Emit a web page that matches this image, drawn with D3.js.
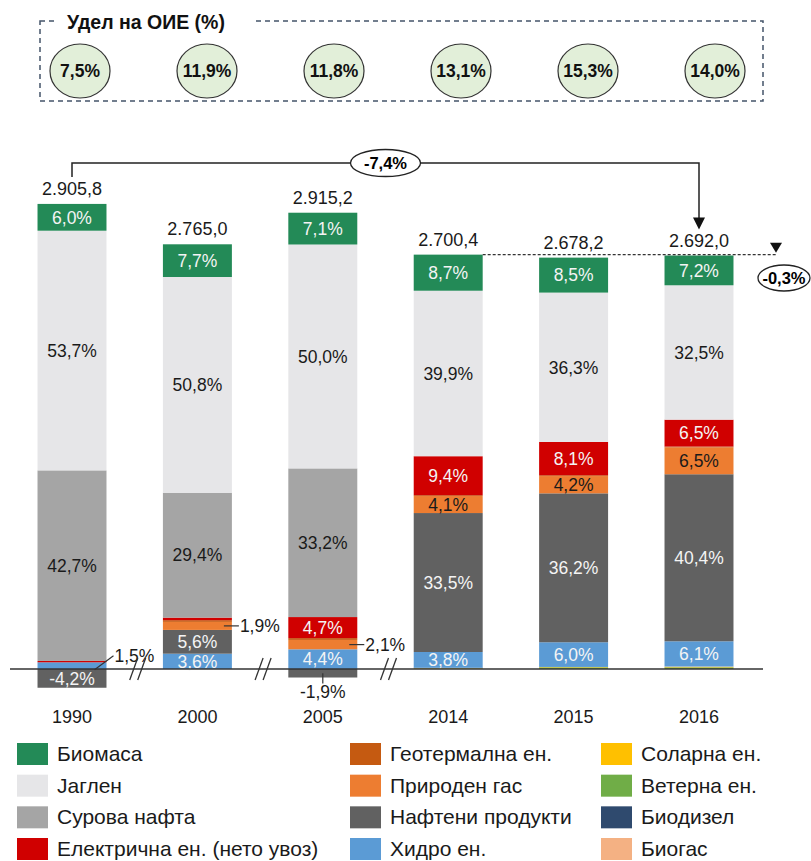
<!DOCTYPE html>
<html lang="bg">
<head>
<meta charset="UTF-8">
<title>Енергетски биланс</title>
<script src="https://d3js.org/d3.v7.min.js"></script>
<style>
  body { margin: 0; background: #fff; }
  text { font-family: "Liberation Sans", Arial, sans-serif; }
</style>
</head>
<body>
<script>

// years and totals (ktoe)
var years = ["1990", "2000", "2005", "2014", "2015", "2016"];
var totals = [2905.8, 2765.0, 2915.2, 2700.4, 2678.2, 2692.0];
var resShare = [7.5, 11.9, 11.8, 13.1, 15.3, 14.0];

// shares (%) per source, bottom of stack first
var wind      = [0, 0, 0, 0.1, 0.4, 0.4];
var solar     = [0, 0, 0, 0.1, 0.1, 0.1];
var biodiesel = [0, 0, 0, 0.1, 0, 0];
var biogas    = [0, 0, 0, 0, 0, 0.1];
var hydro     = [1.5, 3.6, 4.4, 3.8, 6.0, 6.1];
var oilprod   = [-4.2, 5.6, -1.9, 33.5, 36.2, 40.4];
var gas       = [0, 1.9, 2.1, 4.1, 4.2, 6.5];
var geo       = [0, 0.4, 0.4, 0.2, 0.2, 0.2];
var elec      = [0.3, 0.6, 4.7, 9.4, 8.1, 6.5];
var crude     = [42.7, 29.4, 33.2, 0, 0, 0];
var coal      = [53.7, 50.8, 50.0, 39.9, 36.3, 32.5];
var biomass   = [6.0, 7.7, 7.1, 8.7, 8.5, 7.2];

var series = [
  {key: "wind", name: "Ветерна ен.", color: "#70ad47", vals: wind},
  {key: "solar", name: "Соларна ен.", color: "#ffc000", vals: solar},
  {key: "biodiesel", name: "Биодизел", color: "#2f4a6e", vals: biodiesel},
  {key: "biogas", name: "Биогас", color: "#f4b183", vals: biogas},
  {key: "hydro", name: "Хидро ен.", color: "#5b9bd5", vals: hydro},
  {key: "oilprod", name: "Нафтени продукти", color: "#616161", vals: oilprod},
  {key: "gas", name: "Природен гас", color: "#ed7d31", vals: gas},
  {key: "geo", name: "Геотермална ен.", color: "#c55a11", vals: geo},
  {key: "elec", name: "Електрична ен. (нето увоз)", color: "#d00000", vals: elec},
  {key: "crude", name: "Сурова нафта", color: "#a5a5a5", vals: crude},
  {key: "coal", name: "Јаглен", color: "#e6e6e8", vals: coal},
  {key: "biomass", name: "Биомаса", color: "#238a57", vals: biomass}
];

// legend layout order (columns)
var legendCols = [
  ["biomass", "coal", "crude", "elec"],
  ["geo", "gas", "oilprod", "hydro"],
  ["solar", "wind", "biodiesel", "biogas"]
];

// labels drawn outside the bars
var outside = [
  {year: "1990", key: "hydro", side: "right"},
  {year: "2000", key: "gas", side: "right"},
  {year: "2005", key: "gas", side: "right"},
  {year: "2005", key: "oilprod", side: "below"}
];

var darkText = ["coal", "crude", "gas"];

var fmt = function(v) { return v.toFixed(1).replace(".", ",") + "%"; };
var fmtTotal = function(v) {
  var s = v.toFixed(1).split(".");
  return s[0].replace(/\B(?=(\d{3})+(?!\d))/g, ".") + "," + s[1];
};

var W = 811, H = 861;
var svg = d3.select("body").append("svg")
  .attr("width", W).attr("height", H);

var colorOf = {};
series.forEach(function(s) { colorOf[s.key] = s.color; });

// table of absolute values
var table = years.map(function(y, i) {
  var row = {year: y, total: totals[i]};
  series.forEach(function(s) { row[s.key] = s.vals[i] * totals[i] / 100; row[s.key + "_p"] = s.vals[i]; });
  return row;
});

var x = d3.scaleBand()
  .domain(years)
  .range([9.3, 761.7])
  .paddingInner(0.45)
  .paddingOuter(0.225);

var y = d3.scaleLinear()
  .domain([0, 3000])
  .range([669, 208.2]);

var stacked = d3.stack()
  .keys(series.map(function(s) { return s.key; }))
  .offset(d3.stackOffsetDiverging)(table);

// bars
svg.append("g").selectAll("g")
  .data(stacked)
  .enter().append("g")
    .attr("fill", function(d) { return colorOf[d.key]; })
  .selectAll("rect")
  .data(function(d) { return d; })
  .enter().append("rect")
    .attr("x", function(d) { return x(d.data.year); })
    .attr("y", function(d) { return y(Math.max(d[0], d[1])); })
    .attr("width", x.bandwidth())
    .attr("height", function(d) { return Math.abs(y(d[0]) - y(d[1])); });

// inside labels
var inner = [];
stacked.forEach(function(layer) {
  layer.forEach(function(d) {
    var p = d.data[layer.key + "_p"];
    var isOut = outside.some(function(o) { return o.year === d.data.year && o.key === layer.key; });
    if (Math.abs(p) >= 3 && !isOut) inner.push({key: layer.key, d: d, p: p});
  });
});

svg.append("g").selectAll("text")
  .data(inner)
  .enter().append("text")
    .attr("x", function(e) { return x(e.d.data.year) + x.bandwidth() / 2; })
    .attr("y", function(e) { return (y(e.d[0]) + y(e.d[1])) / 2; })
    .attr("dy", "0.36em")
    .attr("text-anchor", "middle")
    .attr("font-size", 17.5)
    .attr("fill", function(e) { return darkText.indexOf(e.key) >= 0 ? "#1a1a1a" : "#f4f4f4"; })
    .text(function(e) { return fmt(e.p); });

// outside labels with leader lines
var outG = svg.append("g");
outside.forEach(function(o) {
  var layer = stacked.filter(function(l) { return l.key === o.key; })[0];
  var d = layer[years.indexOf(o.year)];
  var p = d.data[o.key + "_p"];
  var x1 = x(o.year) + x.bandwidth();
  var ym = (y(d[0]) + y(d[1])) / 2;
  if (o.side === "right") {
    var rising = o.year === "1990";
    outG.append("line")
      .attr("x1", rising ? x1 - 12 : x1 - 8).attr("y1", ym + (rising ? 4 : 0))
      .attr("x2", x1 + 7).attr("y2", ym - (rising ? 10 : 0))
      .attr("stroke", "#333").attr("stroke-width", 1.2);
    outG.append("text")
      .attr("x", x1 + 8).attr("y", ym - (rising ? 10 : 0)).attr("dy", "0.36em")
      .attr("font-size", 17.5).attr("fill", "#1a1a1a")
      .text(fmt(p));
  } else {
    var cx = x(o.year) + x.bandwidth() / 2;
    outG.append("line")
      .attr("x1", cx).attr("y1", ym)
      .attr("x2", cx).attr("y2", y(d[0]) + 6)
      .attr("stroke", "#333").attr("stroke-width", 1.2);
    outG.append("text")
      .attr("x", cx).attr("y", y(d[0]) + 20)
      .attr("text-anchor", "middle")
      .attr("font-size", 17.5).attr("fill", "#1a1a1a")
      .text(fmt(p));
  }
});

// baseline
svg.append("line")
  .attr("x1", 10).attr("x2", 763)
  .attr("y1", y(0)).attr("y2", y(0))
  .attr("stroke", "#333").attr("stroke-width", 1.5);

// axis breaks
var breaks = svg.append("g").attr("stroke", "#333").attr("stroke-width", 1.3);
[0, 1, 2].forEach(function(i) {
  var bx = (x(years[i]) + x(years[i + 1]) + x.bandwidth()) / 2 + 3;
  [-4, 4].forEach(function(off) {
    breaks.append("line")
      .attr("x1", bx + off - 4).attr("y1", y(0) + 11)
      .attr("x2", bx + off + 4).attr("y2", y(0) - 11);
  });
});

// x axis labels
svg.append("g").selectAll("text")
  .data(years)
  .enter().append("text")
    .attr("x", function(d) { return x(d) + x.bandwidth() / 2; })
    .attr("y", 723)
    .attr("text-anchor", "middle")
    .attr("font-size", 18)
    .attr("fill", "#1a1a1a")
    .text(function(d) { return d; });

// totals above bars
var topOf = table.map(function(row, i) {
  var m = 0;
  stacked.forEach(function(l) { m = Math.max(m, l[i][1]); });
  return m;
});
svg.append("g").selectAll("text")
  .data(table)
  .enter().append("text")
    .attr("x", function(d) { return x(d.year) + x.bandwidth() / 2; })
    .attr("y", function(d, i) { return y(topOf[i]) - 9; })
    .attr("text-anchor", "middle")
    .attr("font-size", 18)
    .attr("fill", "#1a1a1a")
    .text(function(d) { return fmtTotal(d.total); });

// change 1990 -> 2016 bracket
var cx0 = x("1990") + x.bandwidth() / 2;
var cx1 = x("2016") + x.bandwidth() / 2;
var by = 163;
svg.append("path")
  .attr("d", "M" + cx0 + "," + (y(topOf[0]) - 27) + "V" + by + "H" + cx1 + "V" + (y(topOf[5]) - 36))
  .attr("fill", "none").attr("stroke", "#222").attr("stroke-width", 1.5);
svg.append("path")
  .attr("d", "M" + (cx1 - 6) + "," + (y(topOf[5]) - 38) + "L" + (cx1 + 6) + "," + (y(topOf[5]) - 38) + "L" + cx1 + "," + (y(topOf[5]) - 26) + "Z")
  .attr("fill", "#111");
var change = (totals[5] / totals[0] - 1) * 100;
svg.append("ellipse")
  .attr("cx", (cx0 + cx1) / 2).attr("cy", by)
  .attr("rx", 35).attr("ry", 13.5)
  .attr("fill", "#fff").attr("stroke", "#222").attr("stroke-width", 1.3);
svg.append("text")
  .attr("x", (cx0 + cx1) / 2).attr("y", by).attr("dy", "0.36em")
  .attr("text-anchor", "middle").attr("font-weight", "bold").attr("font-size", 16.5)
  .text(change.toFixed(1).replace(".", ",") + "%");

// change 2014 -> 2016 dashed marker
var dashY = y(topOf[3]);
svg.append("line")
  .attr("x1", x("2014") + x.bandwidth()).attr("x2", 776)
  .attr("y1", dashY).attr("y2", dashY)
  .attr("stroke", "#333").attr("stroke-width", 1.2).attr("stroke-dasharray", "3,2");
svg.append("path")
  .attr("d", "M770," + (dashY - 12) + "L782," + (dashY - 12) + "L776," + (dashY - 2) + "Z")
  .attr("fill", "#111");
var change2 = (totals[5] / totals[3] - 1) * 100;
svg.append("ellipse")
  .attr("cx", 784).attr("cy", 278).attr("rx", 26).attr("ry", 13)
  .attr("fill", "#fff").attr("stroke", "#222").attr("stroke-width", 1.3);
svg.append("text")
  .attr("x", 784).attr("y", 278).attr("dy", "0.36em")
  .attr("text-anchor", "middle").attr("font-weight", "bold").attr("font-size", 16.5)
  .text(change2.toFixed(1).replace(".", ",") + "%");

// RES share box
svg.append("rect")
  .attr("x", 40).attr("y", 21).attr("width", 723).attr("height", 80)
  .attr("fill", "none").attr("stroke", "#44546a").attr("stroke-width", 1.5)
  .attr("stroke-dasharray", "5,4");
svg.append("rect")
  .attr("x", 56).attr("y", 6).attr("width", 196).attr("height", 34).attr("fill", "#fff");
svg.append("text")
  .attr("x", 67).attr("y", 29)
  .attr("font-weight", "bold").attr("font-size", 19.5).attr("fill", "#111")
  .text("Удел на ОИЕ (%)");

var resX = d3.scalePoint().domain(years).range([80, 715]);
var circ = svg.append("g").selectAll("g")
  .data(years)
  .enter().append("g")
    .attr("transform", function(d) { return "translate(" + resX(d) + ",71)"; });
circ.append("ellipse")
  .attr("rx", 30).attr("ry", 27)
  .attr("fill", "#e2efd9").attr("stroke", "#333").attr("stroke-width", 1.2);
circ.append("text")
  .attr("dy", "0.36em").attr("text-anchor", "middle")
  .attr("font-weight", "bold").attr("font-size", 17.5).attr("fill", "#111")
  .text(function(d, i) { return fmt(resShare[i]); });

// legend
var legX = [17, 350, 601];
var legY = d3.scalePoint().domain([0, 1, 2, 3]).range([754, 849]);
legendCols.forEach(function(col, ci) {
  col.forEach(function(k, ri) {
    var s = series.filter(function(e) { return e.key === k; })[0];
    svg.append("rect")
      .attr("x", legX[ci]).attr("y", legY(ri) - 11)
      .attr("width", 31).attr("height", 22)
      .attr("fill", s.color);
    svg.append("text")
      .attr("x", legX[ci] + 40).attr("y", legY(ri)).attr("dy", "0.33em")
      .attr("font-size", 21).attr("fill", "#1a1a1a")
      .text(s.name);
  });
});

</script>
</body>
</html>
